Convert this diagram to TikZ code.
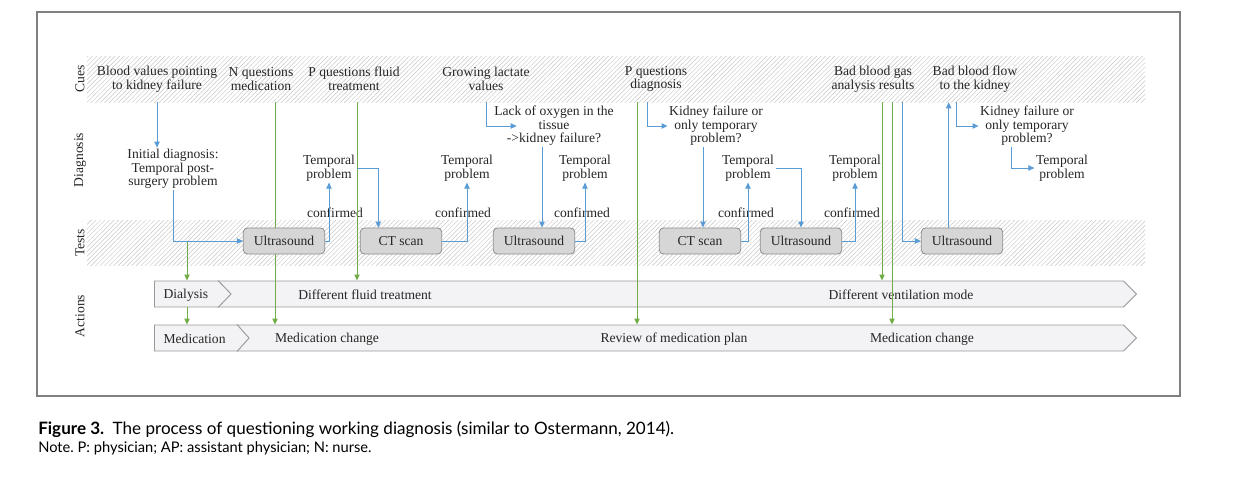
\documentclass[tikz,border=0pt]{standalone}
\usepackage{fontspec}
\setmainfont{Liberation Serif}
\newfontfamily\capfont{Lato}
\usetikzlibrary{arrows.meta,patterns.meta,shapes.symbols}
\frenchspacing

\definecolor{flowblue}{RGB}{91,155,213}
\definecolor{flowgreen}{RGB}{112,173,71}
\definecolor{boxgray}{RGB}{214,214,214}
\definecolor{rowgray}{RGB}{243,243,245}

\begin{document}
\begin{tikzpicture}[x=0.75pt,y=-0.75pt,every node/.style={font=\fontsize{10.2}{10.2}\selectfont,text=black!85},
        lbl/.style={align=center,inner sep=1pt},
        cue/.style={align=center,inner sep=1pt,minimum height=34.5pt},
        lane/.style={rotate=90,inner sep=1pt},
        test/.style={rectangle,rounded corners=3pt,draw=black!45,fill=boxgray,minimum width=61pt,minimum height=19.5pt,line width=0.6pt},
        row/.style={signal,signal to=east,signal pointer angle=90,draw=black!40,fill=rowgray,minimum width=736.5pt,minimum height=19.5pt,inner sep=0,line width=0.7pt},
        band/.style={pattern={Lines[angle=45,distance=2.4pt,line width=0.35pt]},pattern color=black!22},
        ba/.style={draw=flowblue,line width=0.75pt,-{Triangle[length=4.5pt,width=4pt]}},
        ga/.style={draw=flowgreen,line width=0.75pt,-{Triangle[length=4.5pt,width=4pt]}}]
    \useasboundingbox (0,0) rectangle (1245,479);
    \draw[black!50,line width=1pt] (37,12) rectangle (1180,396);
    \path[band] (87,56) rectangle (1145,102);
    \path[band] (87,220) rectangle (1145,265);

    % swimlanes
    \foreach \y/\t in {79/Cues,160/Diagnosis,243/Tests,316/Actions}
        \node[lane] (l\t) at (80,\y) {\t};

    % cues
    \foreach \x/\n/\t in {157/1/{Blood values pointing\\to kidney failure},261/2/{N questions\\medication},
            354/3/{P questions fluid\\treatment},486/4/{Growing lactate\\values},656/5/{P questions\\diagnosis},
            873/6/{Bad blood gas\\analysis results},975/7/{Bad blood flow\\to the kidney}}
        \node[cue] (c\n) at (\x,79) {\t};

    % diagnoses
    \node[lbl] (d1) at (173,169) {Initial diagnosis:\\Temporal post-\\surgery problem};
    \node[lbl] (d2) at (554,126) {Lack of oxygen in the\\tissue\\->kidney failure?};
    \node[lbl] (d3) at (716,126) {Kidney failure or\\only temporary\\problem?};
    \node[lbl] (d4) at (1027,126) {Kidney failure or\\only temporary\\problem?};
    \foreach \x/\n in {329/1,467/2,585/3,748/4,855/5,1062/6}
        \node[lbl] (p\n) at (\x,168) {Temporal\\problem};
    \foreach \x/\n in {335/1,463/2,582/3,746/4,852/5}
        \node[lbl] (k\n) at (\x,213) {confirmed};

    % actions
    \node[row] (r1) at (639,294) {};
    \node[row] (r2) at (639,338) {};
    \draw[black!40,line width=0.7pt] ([xshift=48pt]r1.north west) -- ([xshift=57.75pt]r1.west) -- ([xshift=48pt]r1.south west);
    \draw[black!40,line width=0.7pt] ([xshift=62.25pt]r2.north west) -- ([xshift=71.25pt]r2.west) -- ([xshift=62.25pt]r2.south west);
    \node[anchor=west,inner sep=1pt] (dia) at (162,295) {Dialysis};
    \node (flu) at (365,295) {Different fluid treatment};
    \node (ven) at (901,295) {Different ventilation mode};
    \node[anchor=west,inner sep=1pt] (med) at (162,339) {Medication};
    \node (mc1) at (327,339) {Medication change};
    \node (rev) at (674,339) {Review of medication plan};
    \node (mc2) at (922,339) {Medication change};

    % green: cue -> action
    \coordinate (g1) at (187,241);
    \draw[ga] (g1) -- (g1 |- r1.north);
    \draw[ga] (g1 |- r1.south) -- (g1 |- r2.north);
    \draw[ga] ([xshift=10.5pt]c2.south) -- ([xshift=10.5pt]c2.south |- r2.north);
    \draw[ga] ([xshift=2.25pt]c3.south) -- ([xshift=2.25pt]c3.south |- r1.north);
    \draw[ga] ([xshift=-14.25pt]c5.south) -- ([xshift=-14.25pt]c5.south |- r2.north);
    \draw[ga] ([xshift=6.75pt]c6.south) -- ([xshift=6.75pt]c6.south |- r1.north);
    \draw[ga] ([xshift=14.25pt]c6.south) -- ([xshift=14.25pt]c6.south |- r2.north);

    % tests
    \foreach \x/\n/\t in {284/1/Ultrasound,401/2/CT scan,534/3/Ultrasound,700/4/CT scan,801/5/Ultrasound,962/6/Ultrasound}
        \node[test] (t\n) at (\x,241) {\t};

    % blue: reasoning flow
    \draw[ba] (c1.south) -- (c1.south |- d1.north);
    \draw[ba] (d1.south) |- (t1.west);
    \draw[ba] (t1.east) -| (p1.south);
    \draw[ba] (p1.east) -| ([xshift=-17pt]t2.north);
    \draw[ba] (t2.east) -| (p2.south);
    \draw[ba] (c4.south) |- ([xshift=18pt]d2.west);
    \draw[ba] ([xshift=-9pt]d2.south) -- ([xshift=-9pt]d2.south |- t3.north);
    \draw[ba] (t3.east) -| (p3.south);
    \draw[ba] ([xshift=-6.75pt]c5.south) |- (d3.west);
    \draw[ba] ([xshift=-9.75pt]d3.south) -- ([xshift=-9.75pt]d3.south |- t4.north);
    \draw[ba] (t4.east) -| (p4.south);
    \draw[ba] (p4.east) -| (t5.north);
    \draw[ba] (t5.east) -| (p5.south);
    \draw[ba] ([xshift=21.75pt]c6.south) |- (t6.west);
    \draw[ba] ([xshift=-10pt]t6.north) -- ([xshift=-10pt]t6.north |- c7.south);
    \draw[ba] ([xshift=-14.25pt]c7.south) |- (d4.west);
    \draw[ba] ([xshift=-11.6pt]d4.south) |- (p6.west);

    % caption
    \node[anchor=west,inner sep=0,text=black,font=\capfont\fontsize{12.8}{14}\selectfont] (cap) at (38,429)
        {\textbf{Figure 3.}\enspace The process of questioning working diagnosis (similar to Ostermann, 2014).};
    \node[anchor=west,inner sep=0,text=black,font=\capfont\fontsize{11}{12}\selectfont] (note) at (38,448)
        {Note. P: physician; AP: assistant physician; N: nurse.};
\end{tikzpicture}
\end{document}
